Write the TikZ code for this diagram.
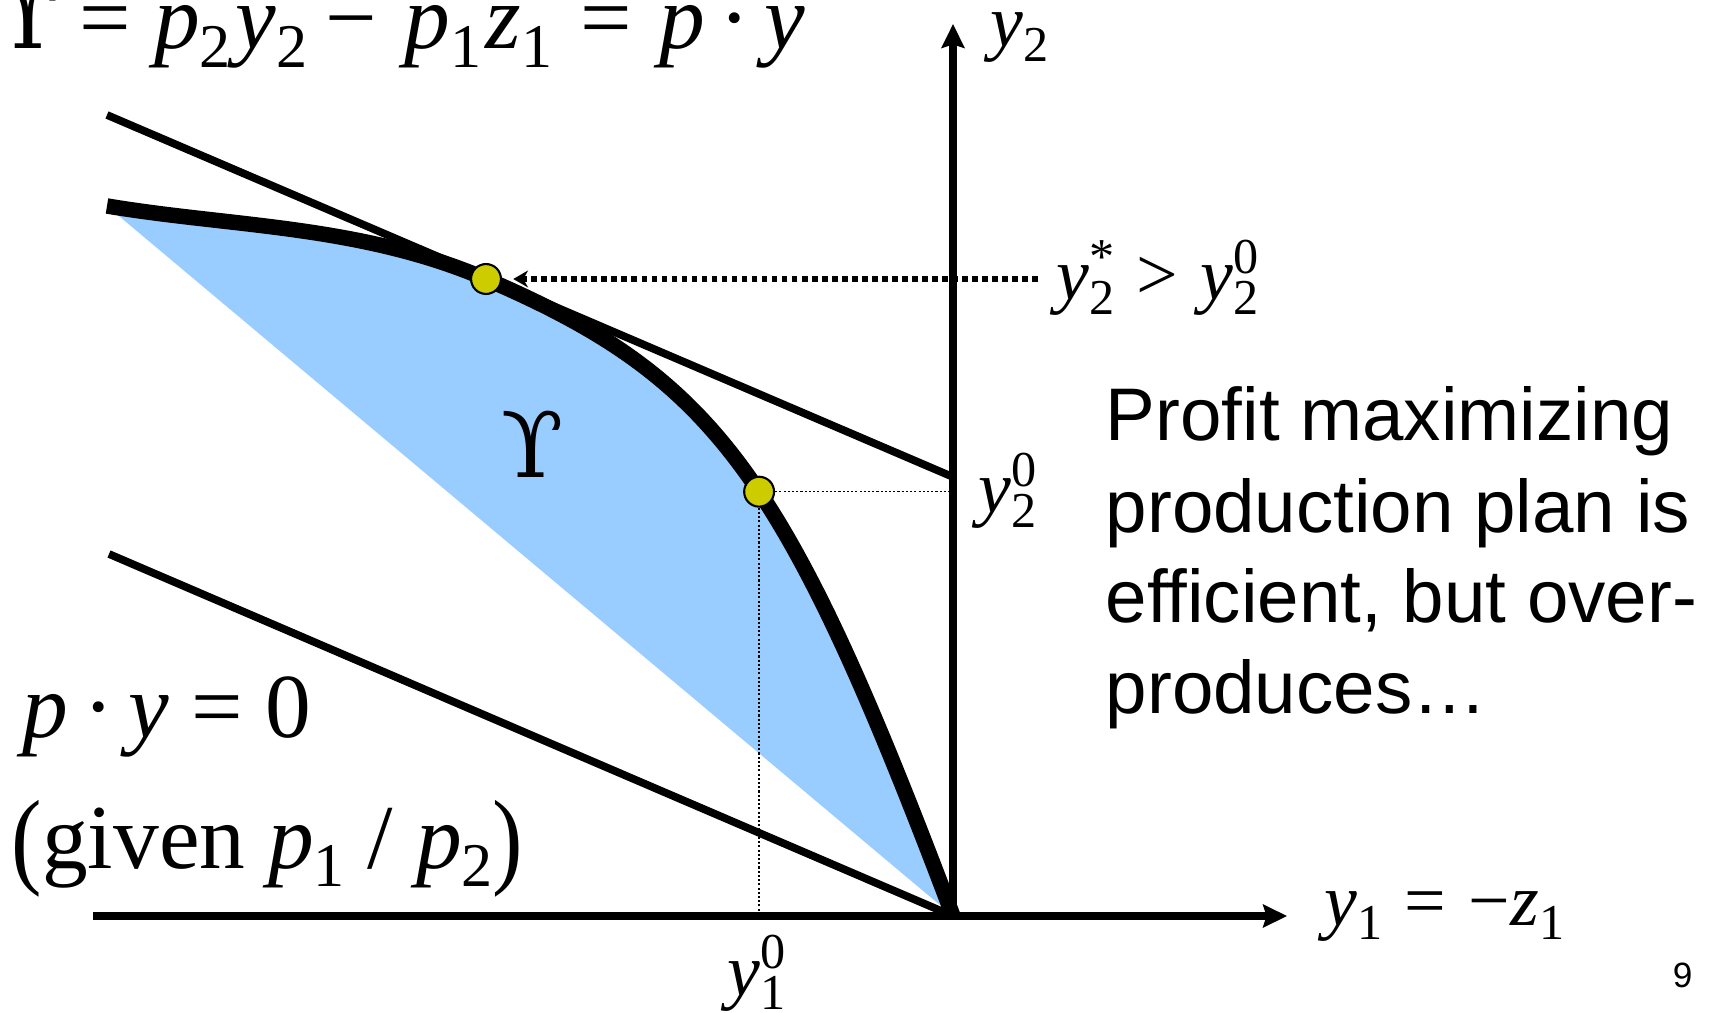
\documentclass[tikz,border=0pt]{standalone}
\usepackage{graphicx}
\usepackage{fontspec}
\setmainfont{Liberation Serif}
\newfontfamily\arialf{Liberation Sans}
\newfontfamily\dvserif{DejaVu Serif}
\usetikzlibrary{arrows.meta}
\definecolor{regblue}{RGB}{153,204,255}
\definecolor{dotyel}{RGB}{204,204,0}
\newcommand{\mv}[1]{\textit{#1}}
\newcommand{\lsub}[1]{\raisebox{-0.2em}{\scalebox{0.68}{#1}}}
\newcommand{\lsup}[1]{\raisebox{0.36em}{\scalebox{0.68}{#1}}}
\newcommand{\lsubsup}[2]{\rlap{\lsup{#2}}\lsub{#1}}
\newcommand{\cdt}{\hspace{0.16em}·\hspace{0.16em}}
\newcommand{\bigpar}[1]{\raisebox{-0.07em}{\scalebox{1}[1.17]{#1}}}
\begin{document}
\begin{tikzpicture}[x=0.01cm,y=-0.01cm,
  axis/.style={line width=2.3pt,-{Stealth[length=6.8pt,width=6.5pt,inset=1pt]}},
  budget/.style={line width=2.2pt},
  frontier/.style={line width=4.4pt},
  dotpt/.style={circle,draw=black,line width=0.6pt,fill=dotyel,minimum size=8.5pt,inner sep=0pt},
  guide/.style={line width=0.45pt,dash pattern=on 0.6pt off 0.6pt},
  dotarrow/.style={line width=1.6pt,dash pattern=on 1.6pt off 1.25pt,-{Stealth[length=4.2pt,width=4.8pt]},shorten >=3.2pt},
  lab/.style={anchor=base west,inner sep=0pt,font=\fontsize{21}{25}\selectfont},
  big/.style={anchor=base west,inner sep=0pt,font=\fontsize{26}{31}\selectfont},
  txt/.style={anchor=base west,inner sep=0pt,font=\arialf\fontsize{21.2}{25.8}\selectfont}]
\fill[white] (0,0) rectangle (1713,1013);
\useasboundingbox (0,0) rectangle (1713,1013);
% key points
\coordinate (O) at (953,916);
\coordinate (S) at (107,206);
\coordinate (T) at (486,279);
\coordinate (L1) at (107,115);
\coordinate (L1e) at (953,477);
\coordinate (L0) at (109,554);
\coordinate (Xs) at (93,916);
\coordinate (Xe) at (1287,916);
\coordinate (Ye) at (953,24);
\coordinate (Ast) at (1038,279);
% production set
\fill[regblue] (S) .. controls (233,227) and (360,225) .. (T)
  .. controls (716,378) and (786,474) .. (O) -- cycle;
\path (T) .. controls (716,378) and (786,474) .. (O) coordinate[pos=0.54] (D2c);
% lines
\draw[budget] (L1) -- (L1e);
\draw[budget] (L0) -- (O);
\draw[frontier] (S) .. controls (233,227) and (360,225) .. (T)
  .. controls (716,378) and (786,474) .. (O);
% dots
\node[dotpt] (D1) at (T) {};
\node[dotpt] (D2) at (D2c) {};
% guides
\draw[guide] (D2.east) -- (D2c -| O);
\draw[guide] (D2.south) -- (D2c |- O);
\draw[dotarrow] (Ast) -- (D1);
% axes
\draw[axis] (Xs) -- (Xe);
\draw[axis] (O) -- (Ye);
% labels
\node[big] (topeq) at (-2,49) {{\dvserif ϒ}\hspace{0.2em}=\hspace{0.25em}\mv{p}\lsub{2}\hspace{0.05em}\mv{y}\lsub{2}\hspace{0.2em}−\hspace{0.3em}\mv{p}\lsub{1}\hspace{0.05em}\mv{z}\lsub{1}\hspace{0.3em}=\hspace{0.3em}\mv{p}\cdt\mv{y}};
\node[lab] (ylab2) at (990,47) {\mv{y}\lsub{2}};
\node[lab] (ystar) at (1056,300) {\mv{y}\lsubsup{2}{*}\hspace{0.3em}>\hspace{0.3em}\mv{y}\lsubsup{2}{0}};
\node[lab] (y20) at (978,513) {\mv{y}\lsubsup{2}{0}};
\node[lab] (y10) at (727,995) {\mv{y}\lsubsup{1}{0}};
\node[lab] (y1z1) at (1324,925) {\mv{y}\lsub{1}\hspace{0.3em}=\hspace{0.3em}−\mv{z}\lsub{1}};
\node[big] (pyeq) at (22,737) {\mv{p}\cdt\mv{y} = 0};
\node[big] (given) at (11,868) {\bigpar{(}given \mv{p}\lsub{1} / \mv{p}\lsub{2}\bigpar{)}};
\node[anchor=base,inner sep=0pt,font=\dvserif\fontsize{25.8}{30}\selectfont] (ups) at (533,478) {ϒ};
\node[txt] (pr1) at (1105,441) {Profit maximizing};
\node[txt] (pr2) at (1105,532) {production plan is};
\node[txt] (pr3) at (1105,622) {efficient, but over-};
\node[txt] (pr4) at (1105,713) {produces…};
\node[anchor=base east,inner sep=0pt,font=\arialf\fontsize{10}{12}\selectfont] (pg) at (1693,987) {9};
\end{tikzpicture}
\end{document}
